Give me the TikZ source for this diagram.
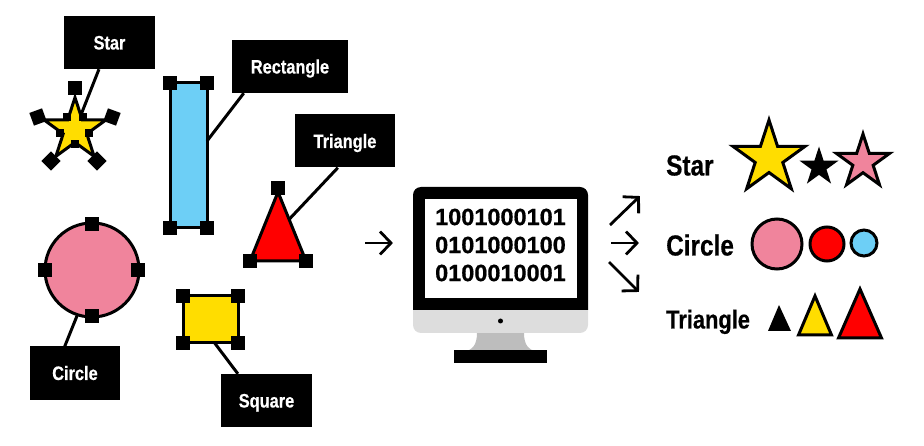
\documentclass[tikz,border=0pt]{standalone}
\usepackage{fontspec}
\usepackage{amsmath}
\usetikzlibrary{arrows.meta,shapes.geometric}
\newfontfamily\narrowfont[FakeStretch=0.84,BoldFeatures={FakeBold=0.5}]{Liberation Sans}
\newfontfamily\screenfont[BoldFeatures={FakeBold=0.6}]{Liberation Sans}
\definecolor{shapeyellow}{HTML}{FFDD00}
\definecolor{shapeblue}{HTML}{6DCFF6}
\definecolor{shapepink}{HTML}{F0849C}
\definecolor{shapered}{HTML}{FF0000}
\definecolor{bezelgrey}{HTML}{DDDDDD}
\definecolor{standgrey}{HTML}{BDBDBD}
\pgfdeclarearrow{
  name=Chevron,
  setup code={\pgfarrowssettipend{2pt}\pgfarrowssetlineend{-1pt}\pgfarrowssetvisualbackend{-11pt}\pgfarrowssetbackend{-11pt}\pgfarrowshullpoint{2pt}{0pt}\pgfarrowshullpoint{-11pt}{12pt}\pgfarrowshullpoint{-11pt}{-12pt}},
  drawing code={\pgfsetlinewidth{2.8pt}\pgfsetdash{}{0pt}\pgfsetmiterjoin\pgfpathmoveto{\pgfqpoint{-11pt}{11.5pt}}\pgfpathlineto{\pgfqpoint{0pt}{0pt}}\pgfpathlineto{\pgfqpoint{-11pt}{-11.5pt}}\pgfusepathqstroke}
}
\tikzset{
  handle/.style={fill=black,inner sep=0pt,minimum size=13.5pt},
  smallhandle/.style={fill=black,inner sep=0pt,minimum size=8pt},
  tag/.style={fill=black,text=white,inner sep=0pt,text height=14pt,text depth=0pt,font=\narrowfont\bfseries\fontsize{19.5}{20}\selectfont},
  heading/.style={anchor=west,inner sep=0pt,text height=21pt,text depth=0pt,font=\narrowfont\bfseries\fontsize{29}{30}\selectfont},
  binary/.style={inner sep=0pt,font=\screenfont\bfseries\fontsize{23.5}{24}\selectfont},
  outline/.style={draw=black,line width=3pt,line join=miter},
  starshape/.style={star,star points=5,star point ratio=2.618,inner sep=0pt,outer sep=0pt,minimum size=#1},
  roundshape/.style={circle,inner sep=0pt,outer sep=0pt,minimum size=#1},
  link/.style={line width=3pt},
  flow/.style={line width=2.8pt,-Chevron}
}
\begin{document}
\begin{tikzpicture}[line cap=butt,line join=miter,x=1pt,y=-1pt]
\useasboundingbox (0,0) rectangle (924,446);
% shapes being tagged
\node[starshape=65pt,outline,fill=shapeyellow] (star) at (75,130) {};
\node[smallhandle] (si1) at (66.5,117) {};
\node[smallhandle] (si2) at (83,117) {};
\node[smallhandle] (si3) at (60,133) {};
\node[smallhandle] (si4) at (89,133) {};
\node[smallhandle] (si5) at (75,144) {};
\node[handle] (s1) at (75,88) {};
\node[handle,rotate=20] (s2) at (38,117) {};
\node[handle,rotate=-20] (s3) at (112,117) {};
\node[handle,rotate=-45] (s4) at (51,161) {};
\node[handle,rotate=45] (s5) at (97,161) {};
\node[rectangle,outline,fill=shapeblue,inner sep=0pt,outer sep=0pt,minimum width=37pt,minimum height=145pt] (rect) at (188.5,155.5) {};
\node[handle] (r1) at (170,83) {};
\node[handle] (r2) at (207,83) {};
\node[handle] (r3) at (170,228) {};
\node[handle] (r4) at (207,228) {};
\coordinate (triA) at (278,192);
\coordinate (triB) at (250,261);
\coordinate (triC) at (306,261);
\coordinate (tripin) at (289,219.5);
\draw[outline,fill=shapered] (triA) -- (triB) -- (triC) -- cycle;
\node[handle] (t1) at (278,188) {};
\node[handle] (t2) at (250,261) {};
\node[handle] (t3) at (306,261) {};
\node[roundshape=94pt,outline,fill=shapepink] (disc) at (92,270) {};
\node[handle] (c1) at (92,224) {};
\node[handle] (c2) at (45,270) {};
\node[handle] (c3) at (138,270) {};
\node[handle] (c4) at (92,316) {};
\node[rectangle,outline,fill=shapeyellow,inner sep=0pt,outer sep=0pt,minimum width=55pt,minimum height=47pt] (sq) at (210.5,319.5) {};
\node[handle] (q1) at (183,296) {};
\node[handle] (q2) at (238,296) {};
\node[handle] (q3) at (183,343) {};
\node[handle] (q4) at (238,343) {};
% tags
\node[tag,minimum width=91pt,minimum height=53pt] (lblstar) at (109.5,42.5) {Star};
\node[tag,minimum width=116pt,minimum height=53pt] (lblrect) at (290,66.5) {Rectangle};
\node[tag,minimum width=100pt,minimum height=53pt] (lbltri) at (345,141) {Triangle};
\node[tag,minimum width=90pt,minimum height=53pt] (lbldisc) at (75,373) {Circle};
\node[tag,minimum width=91pt,minimum height=53pt] (lblsq) at (266.5,400.5) {Square};
\draw[link] (lblstar) -- (star);
\draw[link] (lblrect.210) -- (rect.38);
\draw[link] (lbltri.255) -- (tripin);
\draw[link] (lbldisc.111) -- (disc.252);
\draw[link] (lblsq.137) -- (sq.280);
% arrows
\coordinate (inA) at (365,243);
\coordinate (inB) at (393,243);
\coordinate (upA) at (610,225);
\coordinate (upB) at (640,196);
\coordinate (midA) at (611,243);
\coordinate (midB) at (639,243);
\coordinate (downA) at (609,262);
\coordinate (downB) at (639,292);
\draw[flow] (inA) -- (inB);
\draw[flow] (upA) -- (upB);
\draw[flow] (midA) -- (midB);
\draw[flow] (downA) -- (downB);
% monitor
\fill[standgrey] (477,333) .. controls (477,345) and (472,350) .. (466,351) -- (535,351) .. controls (529,350) and (524,345) .. (524,333) -- cycle;
\fill[bezelgrey,rounded corners=8pt] (413,300) -- (413,333) -- (588,333) -- (588,300) -- cycle;
\fill[black,rounded corners=8pt] (413,310) -- (413,187) -- (588,187) -- (588,310);
\fill[black] (413,296) rectangle (588,310);
\fill[white] (425,199) rectangle (577,298);
\fill[black] (500.5,321) circle (2.5pt);
\fill[black] (454,350) rectangle (547,363);
\node[binary] (bits1) at (500.5,217) {1001000101};
\node[binary] (bits2) at (500.5,245) {0101000100};
\node[binary] (bits3) at (500.5,273) {0100010001};
% sorted result
\node[heading] (hstar) at (666,165) {Star};
\node[heading] (hcircle) at (666,245) {Circle};
\node[heading,font=\narrowfont\bfseries\fontsize{26}{27}\selectfont] (htri) at (666,318) {Triangle};
\node[starshape=76pt,outline,fill=shapeyellow] (star1) at (769,158) {};
\node[starshape=41pt,fill=black] (star2) at (819,167) {};
\node[starshape=56pt,outline,fill=shapepink] (star3) at (863,162) {};
\node[roundshape=50pt,outline,fill=shapepink] (disc1) at (777,244) {};
\node[roundshape=34pt,outline,fill=shapered] (disc2) at (827,244) {};
\node[roundshape=26pt,outline,fill=shapeblue] (disc3) at (864,243) {};
\fill[black] (779,305) -- (768,331) -- (791,331) -- cycle;
\draw[outline,fill=shapeyellow] (815,296) -- (798.5,335) -- (831.5,335) -- cycle;
\draw[outline,fill=shapered] (860,289) -- (838.5,338) -- (881.5,338) -- cycle;
\end{tikzpicture}
\end{document}
